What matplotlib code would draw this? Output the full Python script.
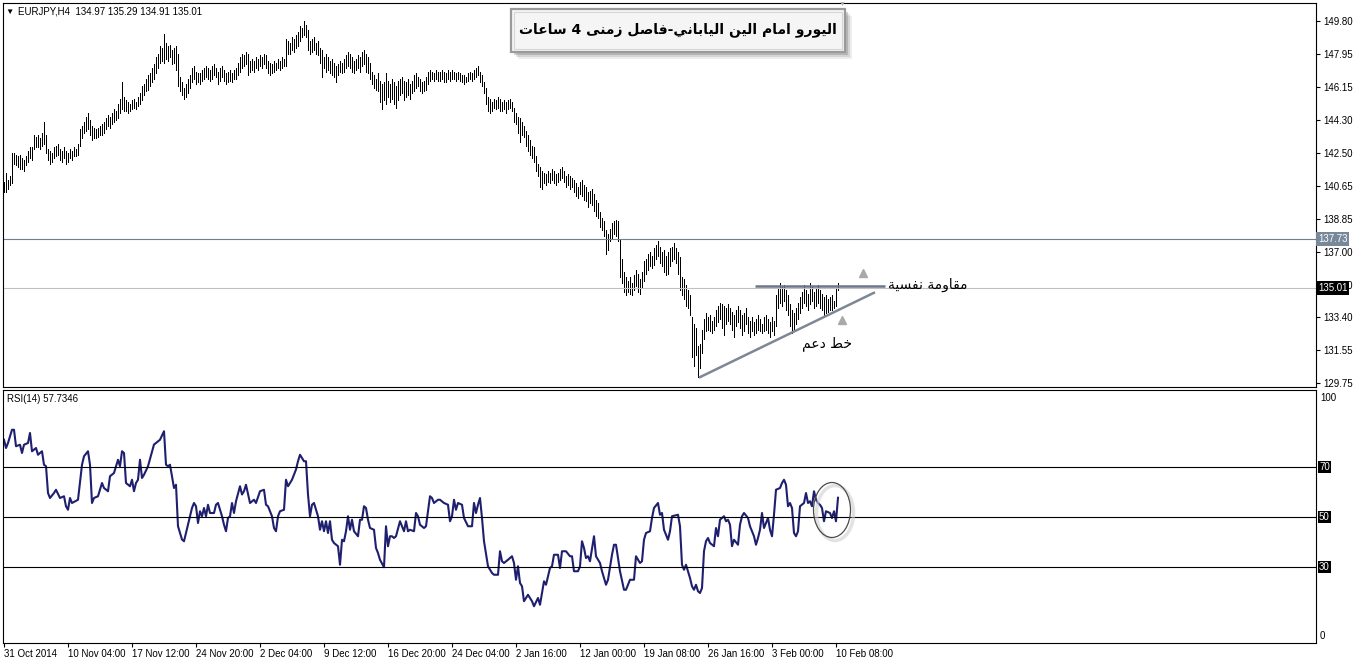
import matplotlib
matplotlib.use('Agg')
import matplotlib.pyplot as plt
from matplotlib.patches import Rectangle, Ellipse
from matplotlib.ticker import FormatStrFormatter
from matplotlib.transforms import blended_transform_factory

# EURJPY H4 bars (one bar per 4 hours)
highs = [
    140.9, 141.4, 141.0, 141.2, 142.5, 142.5, 142.4, 142.3, 142.4, 142.2,
    142.1, 142.3, 142.6, 142.8, 142.8, 143.5, 143.4, 143.5, 143.3, 143.6,
    144.2, 143.5, 142.7, 142.6, 142.5, 142.8, 142.9, 143.0, 142.7, 142.6,
    142.8, 142.6, 142.5, 142.7, 142.6, 142.8, 142.7, 143.0, 143.8, 144.0,
    144.2, 144.5, 144.7, 144.3, 144.0, 143.9, 143.8, 143.9, 144.0, 144.1,
    144.2, 144.4, 144.6, 144.5, 144.7, 144.9, 144.8, 145.2, 145.5, 146.4,
    145.6, 145.4, 145.3, 145.2, 145.4, 145.5, 145.3, 145.6, 145.8, 146.2,
    146.3, 146.6, 146.8, 146.9, 147.2, 147.4, 147.8, 148.0, 148.4, 148.3,
    149.1, 148.6, 148.4, 148.5, 148.2, 148.3, 148.4, 148.0, 146.7, 146.4,
    146.1, 146.3, 146.6, 146.8, 147.2, 147.3, 147.0, 146.9, 146.9, 147.1,
    147.2, 147.3, 147.2, 147.1, 147.3, 147.4, 147.2, 147.0, 147.2, 147.3,
    147.1, 146.9, 147.0, 147.1, 146.9, 147.1, 147.2, 147.5, 147.8, 148.0,
    147.9, 148.1, 148.0, 147.6, 147.7, 147.6, 147.8, 147.7, 147.9, 147.8,
    148.0, 147.9, 147.6, 147.5, 147.4, 147.6, 147.5, 147.7, 147.6, 147.8,
    147.7, 148.8, 148.7, 148.6, 148.9, 148.8, 149.0, 149.2, 149.5, 149.4,
    149.8, 149.6, 149.3, 148.7, 148.8, 148.9, 148.6, 148.7, 148.3, 148.2,
    147.8, 148.0, 147.8, 147.6, 147.7, 147.5, 147.3, 147.4, 147.6, 147.5,
    147.7, 147.9, 148.1, 148.0, 147.8, 147.6, 147.7, 147.9, 147.8, 148.1,
    148.2, 148.0, 147.8, 147.5, 147.0, 146.8, 146.6, 146.9, 146.5, 146.3,
    146.4, 146.9, 146.5, 146.3, 146.6, 146.4, 146.2, 146.5, 146.6, 146.7,
    146.5, 146.4, 146.6, 146.3, 146.5, 146.8, 146.9, 146.7, 146.6, 146.4,
    146.5, 146.7, 147.0, 147.1, 147.0, 146.9, 147.1, 147.0, 147.0, 147.1,
    147.0, 146.9, 147.1, 147.0, 147.1, 147.0, 146.9, 147.0, 146.9, 146.8,
    146.8, 146.7, 146.9, 147.0, 146.9, 147.1, 147.2, 147.3, 147.0, 146.8,
    146.4, 146.1, 145.6, 145.5, 145.3, 145.5, 145.4, 145.6, 145.5, 145.3,
    145.4, 145.3, 145.4, 145.5, 145.3, 145.0, 144.7, 144.5, 144.4, 144.2,
    144.0, 143.7, 143.5, 143.2, 142.9, 142.8, 142.3, 141.9, 141.7, 141.5,
    141.4, 141.3, 141.5, 141.4, 141.6, 141.5, 141.3, 141.4, 141.6, 141.7,
    141.5, 141.2, 141.3, 141.2, 141.1, 141.0, 140.8, 140.6, 140.9, 141.0,
    140.7, 140.6, 140.3, 140.4, 140.5, 140.2, 139.9, 139.7, 139.2, 138.9,
    138.7, 138.2, 138.0, 138.3, 138.6, 138.7, 138.8, 138.7, 137.7, 136.6,
    135.9, 135.6, 135.4, 135.6, 135.3, 135.7, 136.0, 135.8, 135.5, 135.9,
    136.5, 136.6, 136.9, 137.0, 136.8, 137.2, 137.4, 137.6, 137.3, 137.0,
    137.1, 136.8, 137.0, 137.2, 137.3, 137.5, 137.2, 137.0, 136.7, 135.6,
    135.5, 135.2, 134.9, 134.6, 133.4, 133.0, 132.8, 131.8, 131.9, 132.7,
    133.3, 133.6, 133.4, 133.5, 133.2, 133.4, 133.8, 134.0, 134.2, 134.1,
    134.0, 133.9, 134.1, 133.9, 133.7, 133.5, 133.8, 134.0, 133.8, 133.5,
    133.6, 133.9, 133.4, 133.2, 133.4, 133.1, 133.3, 133.5, 133.3, 133.0,
    133.4, 133.5, 133.3, 133.1, 133.4, 133.2, 134.6, 135.0, 135.3, 135.1,
    135.2, 134.9, 134.6, 134.1, 133.8, 133.6, 133.9, 134.2, 134.5, 134.8,
    135.2, 134.9, 134.7, 135.3, 135.1, 134.8, 135.0, 135.2, 134.9, 134.7,
    134.5, 134.6, 134.4, 134.5, 134.6, 134.3, 135.0, 135.29,
]
lows = [
    140.3, 140.3, 140.5, 140.7, 140.8, 141.9, 141.8, 141.7, 141.6, 141.6,
    141.5, 141.8, 142.0, 142.2, 142.1, 142.7, 142.8, 142.8, 142.7, 142.9,
    143.0, 142.5, 142.1, 141.9, 142.0, 142.2, 142.3, 142.4, 142.1, 142.0,
    142.2, 141.9, 142.0, 142.2, 142.1, 142.3, 142.3, 142.4, 142.9, 143.3,
    143.6, 143.7, 143.8, 143.5, 143.2, 143.3, 143.3, 143.4, 143.5, 143.5,
    143.6, 143.8, 144.0, 143.9, 144.1, 144.2, 144.3, 144.4, 144.7, 144.9,
    144.8, 144.8, 144.7, 144.8, 144.9, 145.0, 144.9, 145.1, 145.2, 145.4,
    145.7, 145.9, 146.0, 146.2, 146.4, 146.6, 146.9, 147.2, 147.5, 147.6,
    147.5, 147.7, 147.6, 147.8, 147.4, 147.5, 147.1, 146.2, 145.9, 145.7,
    145.5, 145.6, 145.8, 146.1, 146.4, 146.6, 146.3, 146.4, 146.3, 146.5,
    146.6, 146.7, 146.6, 146.5, 146.6, 146.8, 146.7, 146.3, 146.5, 146.7,
    146.5, 146.3, 146.4, 146.5, 146.4, 146.6, 146.6, 146.8, 147.0, 147.2,
    147.3, 147.4, 146.8, 147.0, 147.1, 147.0, 147.2, 147.1, 147.3, 147.2,
    147.4, 147.2, 146.9, 146.8, 146.9, 147.0, 147.1, 147.2, 147.1, 147.2,
    147.3, 147.3, 148.0, 148.0, 148.2, 148.1, 148.3, 148.4, 148.7, 148.9,
    149.0, 148.9, 148.2, 148.0, 148.1, 148.2, 148.0, 147.9, 147.5, 146.7,
    147.2, 147.0, 147.1, 146.9, 146.8, 146.7, 146.4, 146.8, 147.0, 146.9,
    147.0, 147.2, 147.3, 147.2, 147.0, 146.9, 147.1, 147.2, 147.0, 147.3,
    147.4, 147.0, 146.9, 146.6, 146.3, 146.1, 146.0, 145.9, 145.3, 144.9,
    145.4, 145.2, 145.6, 145.3, 145.5, 145.2, 145.0, 145.4, 145.7, 145.8,
    145.4, 145.6, 145.7, 145.5, 145.8, 145.9, 146.1, 146.2, 145.9, 145.8,
    145.9, 146.0, 146.3, 146.5, 146.6, 146.5, 146.6, 146.5, 146.5, 146.6,
    146.4, 146.4, 146.6, 146.5, 146.6, 146.6, 146.5, 146.6, 146.5, 146.4,
    146.3, 146.4, 146.5, 146.6, 146.5, 146.6, 146.7, 146.8, 146.4, 146.2,
    145.8, 145.2, 144.8, 144.7, 144.8, 145.0, 144.9, 145.0, 144.8, 144.8,
    144.9, 144.7, 144.9, 145.0, 144.8, 144.2, 144.1, 143.6, 143.1, 143.5,
    143.4, 142.9, 142.6, 142.4, 142.2, 142.0, 141.5, 141.2, 140.6, 140.5,
    140.8, 140.7, 140.9, 140.8, 141.0, 140.8, 140.7, 140.9, 141.0, 141.1,
    140.9, 140.6, 140.7, 140.5, 140.6, 140.3, 140.1, 140.0, 140.2, 140.1,
    139.9, 139.8, 139.5, 139.7, 139.6, 139.3, 139.0, 138.9, 138.4, 138.2,
    137.9, 136.9, 137.1, 137.6, 137.8, 138.0, 137.9, 137.6, 135.6, 135.3,
    134.8, 134.6, 134.8, 134.7, 134.6, 134.9, 135.1, 134.8, 134.7, 135.0,
    135.4, 135.8, 136.0, 136.2, 136.1, 136.3, 136.6, 136.8, 136.4, 136.2,
    135.9, 135.7, 135.8, 136.2, 136.5, 136.6, 136.4, 135.8, 134.9, 134.6,
    134.4, 134.0, 133.9, 133.5, 131.2, 130.7, 131.3, 130.1, 130.6, 131.4,
    132.2, 132.6, 132.7, 132.6, 132.5, 132.7, 132.9, 133.1, 133.3, 132.8,
    132.4, 133.0, 133.2, 133.0, 132.7, 132.3, 132.9, 133.1, 132.8, 132.4,
    132.6, 133.0, 132.5, 132.3, 132.6, 132.4, 132.5, 132.7, 132.6, 132.5,
    132.6, 132.7, 132.5, 132.3, 132.6, 132.4, 132.9, 133.9, 134.2, 134.0,
    134.3, 133.8, 133.5, 132.9, 132.5, 132.7, 133.0, 133.3, 133.6, 133.9,
    134.2, 134.0, 133.8, 134.1, 134.3, 133.9, 134.0, 134.2, 133.9, 133.8,
    133.4, 133.6, 133.7, 133.8, 133.8, 133.9, 134.0, 134.91,
]

# RSI(14) readings (bar number, value)
rsi_bar = [
    0, 1, 2, 4, 5, 6, 8, 9, 10, 12, 13, 14, 16, 17, 19, 20, 21, 22, 23, 25,
    26, 28, 30, 31, 32, 33, 34, 37, 39, 40, 42, 43, 44, 45, 47, 49, 50, 52, 53, 55,
    57, 58, 59, 60, 61, 63, 64, 65, 66, 67, 68, 69, 70, 72, 75, 76, 78, 80, 81, 82,
    83, 85, 86, 87, 88, 89, 90, 92, 94, 95, 96, 97, 98, 99, 100, 101, 102, 103, 105, 106,
    107, 109, 110, 111, 112, 113, 114, 115, 116, 118, 119, 120, 121, 123, 125, 126, 128, 130, 131, 132,
    134, 135, 136, 137, 138, 140, 141, 142, 144, 146, 147, 148, 150, 151, 152, 153, 154, 155, 157, 158,
    159, 160, 161, 162, 163, 164, 165, 167, 168, 169, 170, 171, 172, 173, 174, 175, 177, 178, 179, 180,
    181, 182, 183, 185, 186, 187, 188, 190, 191, 192, 193, 194, 195, 196, 198, 200, 201, 202, 203, 205,
    206, 207, 208, 210, 211, 213, 214, 215, 217, 218, 220, 222, 223, 224, 225, 226, 227, 229, 230, 232,
    234, 235, 236, 237, 238, 239, 240, 242, 244, 245, 247, 248, 249, 250, 252, 254, 255, 256, 257, 258,
    259, 260, 262, 264, 265, 267, 268, 270, 271, 273, 274, 275, 277, 278, 279, 281, 283, 284, 285, 287,
    288, 289, 290, 291, 292, 293, 295, 296, 298, 299, 301, 302, 304, 305, 306, 308, 310, 311, 313, 315,
    316, 318, 319, 320, 321, 323, 324, 325, 327, 328, 329, 330, 332, 333, 334, 337, 338, 339, 340, 341,
    343, 344, 345, 346, 347, 348, 349, 350, 351, 352, 353, 355, 356, 357, 358, 360, 361, 362, 363, 364,
    365, 367, 368, 369, 370, 372, 373, 375, 376, 377, 378, 379, 380, 382, 383, 384, 385, 386, 388, 389,
    390, 391, 392, 393, 394, 395, 396, 397, 398, 400, 401, 402, 403, 404, 405, 406, 407, 408, 409, 410,
    411, 413, 414, 415, 416, 417,
]
rsi_val = [
    80.9, 77.6, 79.6, 84.9, 84.9, 78.3, 78.9, 75.6, 78.9, 79.6, 83.6, 76.3, 77.6, 74.9, 76.3, 70.9, 70.3, 59.6, 57.6, 59.6,
    60.9, 57.6, 58.3, 54.3, 52.9, 57.6, 55.6, 56.9, 70.9, 74.3, 76.3, 70.9, 55.6, 57.6, 58.3, 63.6, 61.6, 60.3, 66.3, 67.6,
    72.9, 70.3, 76.3, 75.6, 63.6, 62.3, 64.9, 60.3, 63.6, 64.9, 72.9, 65.6, 66.9, 70.3, 79.0, 79.6, 80.9, 84.3, 70.9, 70.3,
    70.9, 61.6, 62.9, 46.3, 43.6, 41.0, 40.3, 47.0, 53.6, 55.6, 54.3, 47.6, 52.3, 50.3, 53.6, 50.3, 54.9, 51.6, 51.6, 54.9,
    55.6, 50.3, 46.9, 44.3, 49.6, 50.3, 55.6, 51.6, 56.3, 62.3, 59.0, 60.3, 62.9, 55.6, 56.9, 55.6, 60.3, 60.9, 54.9, 54.3,
    50.3, 45.6, 44.3, 50.3, 52.3, 52.9, 64.9, 62.3, 64.9, 69.0, 72.3, 74.9, 72.3, 72.3, 59.0, 50.3, 54.9, 55.6, 50.3, 44.9,
    48.3, 44.3, 48.3, 43.6, 48.3, 40.9, 39.6, 38.3, 30.9, 40.9, 40.3, 44.3, 50.3, 44.9, 48.9, 44.3, 42.3, 48.9, 48.9, 54.3,
    53.6, 48.9, 45.6, 44.9, 37.6, 35.6, 32.9, 29.9, 46.3, 38.3, 42.3, 42.3, 41.6, 42.3, 48.3, 44.3, 48.3, 44.3, 44.9, 44.3,
    51.6, 50.3, 46.9, 45.6, 46.3, 58.3, 57.6, 55.6, 56.9, 56.9, 55.6, 54.9, 48.3, 50.3, 56.9, 52.9, 55.6, 54.9, 49.6, 46.3,
    46.3, 55.6, 51.6, 54.9, 57.6, 49.6, 40.3, 30.3, 27.6, 26.9, 26.9, 36.3, 32.3, 31.6, 32.9, 34.3, 31.6, 24.9, 30.3, 23.6,
    22.3, 16.3, 18.9, 16.3, 14.3, 17.6, 14.9, 24.3, 22.9, 29.6, 30.3, 34.9, 34.9, 29.6, 36.3, 36.3, 34.3, 34.3, 28.3, 28.3,
    30.3, 40.3, 37.6, 33.6, 34.3, 32.3, 42.3, 34.3, 31.6, 28.3, 22.9, 24.9, 34.9, 38.9, 38.9, 28.3, 20.9, 20.9, 24.9, 24.9,
    34.3, 31.6, 32.3, 40.9, 43.6, 44.3, 49.6, 53.6, 55.6, 50.9, 51.6, 44.9, 40.9, 44.3, 50.3, 50.9, 46.3, 30.9, 28.9, 30.9,
    25.6, 22.3, 20.9, 22.9, 20.3, 19.6, 21.6, 36.3, 40.3, 41.6, 39.6, 38.3, 45.6, 42.3, 48.9, 50.3, 48.3, 48.9, 46.9, 38.3,
    40.9, 38.9, 46.9, 50.3, 51.6, 49.6, 46.3, 42.3, 38.9, 41.6, 44.9, 51.6, 45.6, 49.6, 44.9, 42.3, 50.9, 60.9, 61.6, 63.6,
    64.9, 62.9, 54.3, 55.6, 53.6, 43.6, 42.3, 44.3, 54.3, 55.6, 59.6, 55.6, 56.3, 54.3, 60.3, 56.9, 55.6, 54.9, 53.6, 48.3,
    52.3, 51.6, 49.6, 52.3, 48.3, 57.7,
]

price_ticks = [149.80, 147.95, 146.15, 144.30, 142.50, 140.65, 138.85, 137.00,
               135.20, 133.40, 131.55, 129.75]
date_bars = [0, 32, 64, 96, 128, 160, 192, 224, 256, 288, 320, 352, 384, 416]
date_labels = ['31 Oct 2014', '10 Nov 04:00', '17 Nov 12:00', '24 Nov 20:00',
               '2 Dec 04:00', '9 Dec 12:00', '16 Dec 20:00', '24 Dec 04:00',
               '2 Jan 16:00', '12 Jan 00:00', '19 Jan 08:00', '26 Jan 16:00',
               '3 Feb 00:00', '10 Feb 08:00']
rsi_levels = [70, 50, 30]

# drawn lines on the chart
resist_bars, resist_price = [375.5, 440.5], 135.13
support_bars, support_prices = [347.5, 435.5], [130.04, 134.77]
line_prices = [137.73, 135.01]

title_ar = 'اليورو امام الين الياباني-فاصل زمنى 4 ساعات'
resist_ar = 'مقاومة نفسية'
support_ar = 'خط دعم'


# matplotlib does no arabic shaping, so pick the presentation forms by hand
# (isolated, final, initial, medial)
FORMS = {
    'ا': ('\uFE8D', '\uFE8E', None, None),
    'ب': ('\uFE8F', '\uFE90', '\uFE91', '\uFE92'),
    'ت': ('\uFE95', '\uFE96', '\uFE97', '\uFE98'),
    'ة': ('\uFE93', '\uFE94', None, None),
    'خ': ('\uFEA5', '\uFEA6', '\uFEA7', '\uFEA8'),
    'د': ('\uFEA9', '\uFEAA', None, None),
    'ر': ('\uFEAD', '\uFEAE', None, None),
    'ز': ('\uFEAF', '\uFEB0', None, None),
    'س': ('\uFEB1', '\uFEB2', '\uFEB3', '\uFEB4'),
    'ص': ('\uFEB9', '\uFEBA', '\uFEBB', '\uFEBC'),
    'ط': ('\uFEC1', '\uFEC2', '\uFEC3', '\uFEC4'),
    'ع': ('\uFEC9', '\uFECA', '\uFECB', '\uFECC'),
    'ف': ('\uFED1', '\uFED2', '\uFED3', '\uFED4'),
    'ق': ('\uFED5', '\uFED6', '\uFED7', '\uFED8'),
    'ل': ('\uFEDD', '\uFEDE', '\uFEDF', '\uFEE0'),
    'م': ('\uFEE1', '\uFEE2', '\uFEE3', '\uFEE4'),
    'ن': ('\uFEE5', '\uFEE6', '\uFEE7', '\uFEE8'),
    'و': ('\uFEED', '\uFEEE', None, None),
    'ى': ('\uFEEF', '\uFEF0', None, None),
    'ي': ('\uFEF1', '\uFEF2', '\uFEF3', '\uFEF4'),
}


def shape(text):
    out = []
    for i, ch in enumerate(text):
        if ch not in FORMS:
            out.append(ch)
            continue
        f = FORMS[ch]
        prev = text[i - 1] if i > 0 else ''
        nxt = text[i + 1] if i + 1 < len(text) else ''
        jp = prev in FORMS and FORMS[prev][2] is not None
        jn = f[2] is not None and nxt in FORMS
        if jp and jn:
            out.append(f[3])
        elif jp:
            out.append(f[1])
        elif jn:
            out.append(f[2])
        else:
            out.append(f[0])
    return ''.join(reversed(out))


plt.rcParams['font.family'] = ['Liberation Sans', 'DejaVu Sans']
AR = ['DejaVu Sans']

W, H = 1356, 661
fig = plt.figure(figsize=(W / 100, H / 100), dpi=100)
fig.patch.set_facecolor('white')


def pbox(l, t, r, b):
    return [l / W, 1 - b / H, (r - l) / W, (b - t) / H]


def fx(x):
    return x / W


def fy(y):
    return 1 - y / H


ax = fig.add_axes(pbox(3, 3, 1316, 387))
ax2 = fig.add_axes(pbox(3, 390, 1316, 643), sharex=ax)

nb = len(highs)
bars = list(range(nb))

### price panel
ax.vlines(bars, lows, highs, colors='black', linewidth=0.72, antialiased=False)
ax.axhline(line_prices[0], color='#6f7f8f', lw=0.8)
ax.axhline(line_prices[1], color='#c0c0c0', lw=0.8)
ax.plot(resist_bars, [resist_price, resist_price], color='#6b7786', lw=1.8,
        solid_capstyle='butt')
ax.plot(support_bars, support_prices, color='#7d8796', lw=1.8,
        solid_capstyle='butt')
ax.plot([429.5], [135.84], marker='^', color='#a9a9a9', ms=6, ls='none')
ax.plot([419], [133.24], marker='^', color='#a9a9a9', ms=6, ls='none')
ax.text(442, 135.2, shape(resist_ar), family=AR, fontsize=10,
        ha='left', va='center')
ax.text(411.5, 131.95, shape(support_ar), family=AR, fontsize=10,
        ha='center', va='center')

ax.set_xlim(-0.5, 656)
ax.set_ylim(129.52, 150.80)
ax.yaxis.tick_right()
ax.set_yticks(price_ticks)
ax.yaxis.set_major_formatter(FormatStrFormatter('%.2f'))
ax.tick_params(axis='y', direction='out', length=3, width=0.8, labelsize=7, pad=2)
ax.tick_params(axis='x', bottom=False, labelbottom=False)

tr = blended_transform_factory(ax.transAxes, ax.transData)
ax.text(1.0 + 2 / 1313, line_prices[0], '%.2f' % line_prices[0], transform=tr,
        fontsize=7, color='white', ha='left', va='center', zorder=6,
        bbox=dict(facecolor='#77889a', edgecolor='none', pad=1.2))
ax.text(1.0 + 2 / 1313, line_prices[1], '%.2f' % line_prices[1], transform=tr,
        fontsize=7, color='white', ha='left', va='center', zorder=6,
        bbox=dict(facecolor='black', edgecolor='none', pad=1.2))

### RSI panel
ax2.plot(rsi_bar, rsi_val, color='#1f1f6f', lw=1.5)
for lv in rsi_levels:
    ax2.axhline(lv, color='black', lw=0.8)
ax2.set_ylim(-0.4, 100.8)
ax2.set_yticks([])
tr2 = blended_transform_factory(ax2.transAxes, ax2.transData)
for lv in rsi_levels:
    ax2.text(1.0 + 3 / 1313, lv, str(lv), transform=tr2, fontsize=7,
             color='white', ha='left', va='center',
             bbox=dict(facecolor='black', edgecolor='none', pad=0.8))
ax2.text(1.0 + 4 / 1313, 99.5, '100', transform=tr2, fontsize=7,
         ha='left', va='top')
ax2.text(1.0 + 4 / 1313, 0.5, '0', transform=tr2, fontsize=7,
         ha='left', va='bottom')
ax2.set_xticks(date_bars)
ax2.set_xticklabels(date_labels)
ax2.tick_params(axis='x', direction='out', length=3, width=0.8, labelsize=7, pad=1)
for lbl in ax2.get_xticklabels():
    lbl.set_horizontalalignment('left')

for a in (ax, ax2):
    for s in a.spines.values():
        s.set_color('black')
        s.set_linewidth(0.8)

### header texts
fig.text(fx(9), fy(12), '▼', fontsize=6, ha='center', va='center')
fig.text(fx(18), fy(12), 'EURJPY,H4  134.97 135.29 134.91 135.01',
         fontsize=7, ha='left', va='center')
fig.text(fx(7), fy(399), 'RSI(14) 57.7346', fontsize=7, ha='left', va='center')

### title box with drop shadow
for off, al in [(7, 0.12), (5, 0.2), (3, 0.3)]:
    fig.add_artist(Rectangle((fx(511 + off), fy(52 + off)), 334 / W, 43 / H,
                             transform=fig.transFigure, facecolor='#707070',
                             edgecolor='none', alpha=al, zorder=10))
fig.add_artist(Rectangle((fx(511), fy(52)), 334 / W, 43 / H,
                         transform=fig.transFigure, facecolor='#f5f5f5',
                         edgecolor='#9a9a9a', lw=1.6, zorder=11))
fig.add_artist(Rectangle((fx(514), fy(49)), 328 / W, 37 / H,
                         transform=fig.transFigure, facecolor='none',
                         edgecolor='#d6d6d6', lw=0.8, zorder=11))
fig.text(fx(678), fy(30), shape(title_ar), family=AR, fontsize=10,
         fontweight='bold', ha='center', va='center', zorder=12)
fig.text(fx(842), fy(4), '▼', fontsize=5, color='#b0b0b0', ha='center',
         va='center', zorder=12)

### circle around the last RSI swing
fig.add_artist(Ellipse((fx(835), fy(513)), 37 / W, 55 / H,
                       transform=fig.transFigure, fill=False,
                       edgecolor='#cfcfcf', lw=2.5, alpha=0.6, zorder=10))
fig.add_artist(Ellipse((fx(832), fy(510)), 37 / W, 55 / H,
                       transform=fig.transFigure, fill=False,
                       edgecolor='#4a4a4a', lw=0.9, zorder=11))

fig.savefig('out.png', dpi=100, facecolor='white')
